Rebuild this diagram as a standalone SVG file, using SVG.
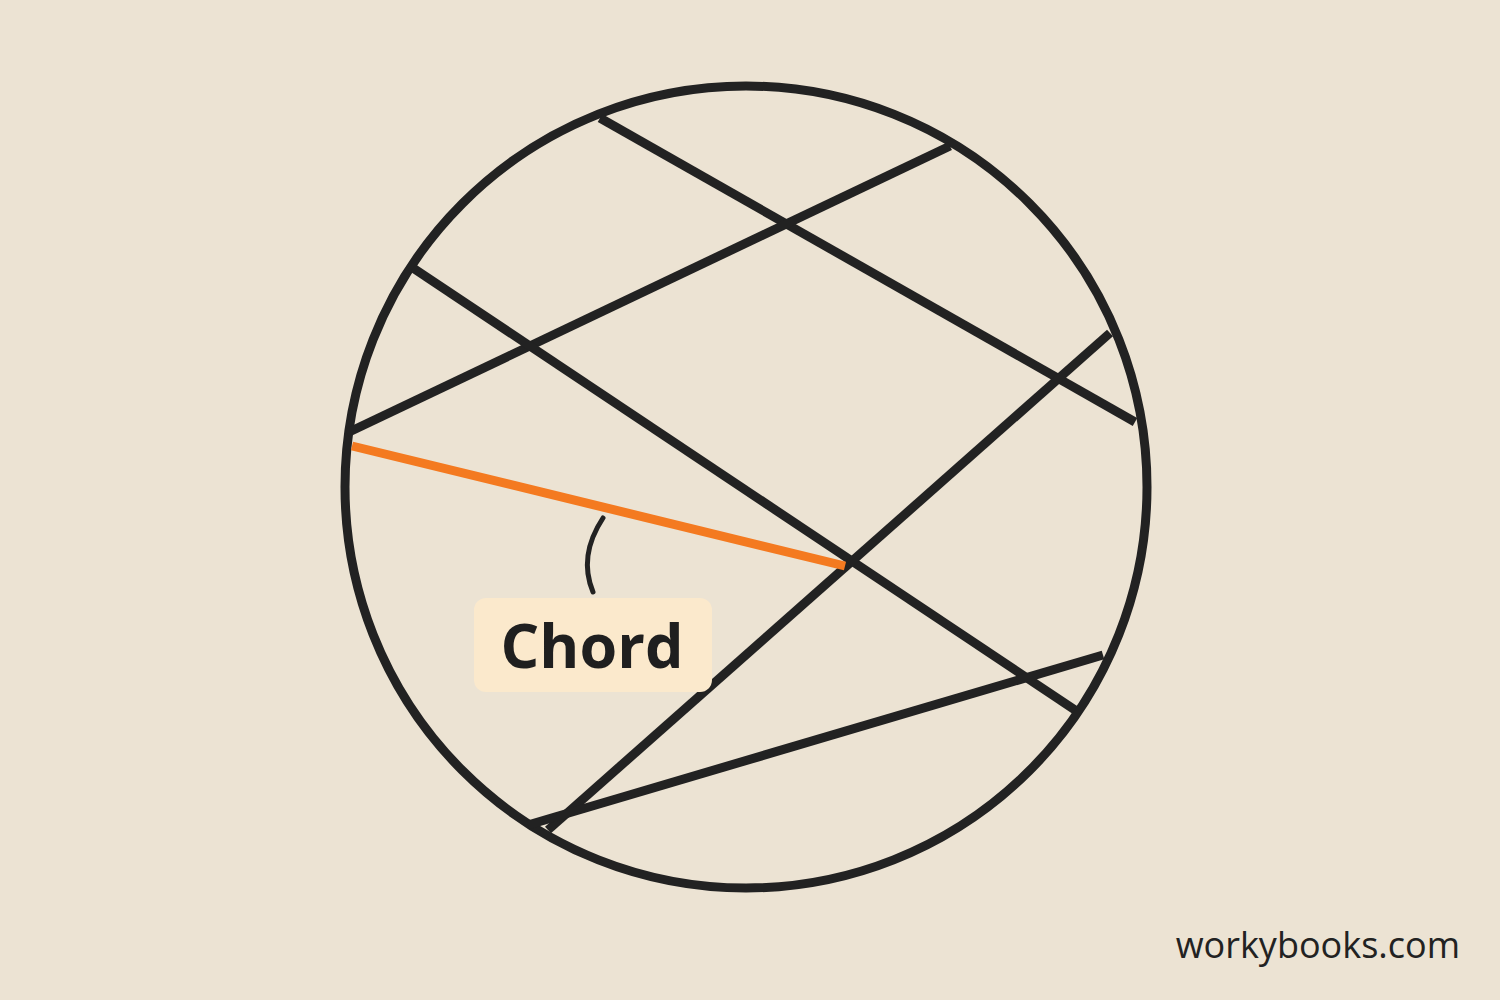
<svg xmlns="http://www.w3.org/2000/svg" width="1500" height="1000" viewBox="0 0 1500 1000">
  <style>
    .ln { stroke: #222222; stroke-width: 9; fill: none; stroke-linecap: butt; }
    .lead { stroke: #222222; stroke-width: 5; fill: none; stroke-linecap: round; }
    .chord { stroke: #f47a20; stroke-width: 9; fill: none; }
    .lbl { font-family: "Open Sans", "Noto Sans", sans-serif; font-weight: 700; font-size: 61px; fill: #1f1f1f; }
    .wm { font-family: "Open Sans", "Noto Sans", sans-serif; font-size: 36px; fill: #222222; }
  </style>
  <rect x="0" y="0" width="1500" height="1000" fill="#ece3d3"/>
  <g id="circle">
    <circle cx="746" cy="487" r="401" class="ln"/>
  </g>
  <g id="connectors">
    <line x1="600" y1="118" x2="1135" y2="422" class="ln"/>
    <line x1="950" y1="146" x2="347" y2="433" class="ln"/>
    <line x1="413" y1="268" x2="1075" y2="710" class="ln"/>
    <line x1="1110" y1="333" x2="548" y2="830" class="ln"/>
    <line x1="1103" y1="655" x2="528" y2="825" class="ln"/>
    <line x1="352" y1="446" x2="845" y2="566" class="chord"/>
    <path d="M603,518 Q578,556 593,592" class="lead"/>
  </g>
  <g id="label">
    <rect x="474" y="598" width="238" height="94" rx="12" fill="#fbe9cc"/>
    <text x="592" y="668" text-anchor="middle" class="lbl">Chord</text>
  </g>
  <g id="watermark">
    <text x="1460" y="958" text-anchor="end" class="wm">workybooks.com</text>
  </g>
</svg>
